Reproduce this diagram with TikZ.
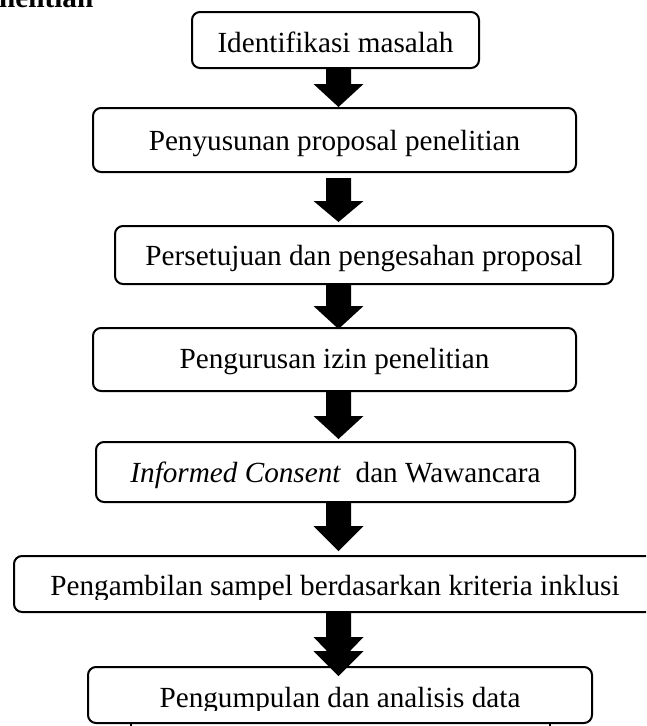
\documentclass[tikz,border=0pt]{standalone}
\usepackage{fontspec}
\setmainfont{Liberation Serif}
\usetikzlibrary{calc}
\tikzset{
  box/.style={draw, line width=2pt, rounded corners=8pt, inner sep=0pt},
  lbl/.style={anchor=base, inner sep=0pt, font=\fontsize{29.2}{35}\selectfont},
}
\newcommand{\blockarrow}[3]{%
  \fill ($(#1)+(-12.5,0)$) -- ($(#1)+(12.5,0)$) -- ($(#2)+(12.5,-#3)$)
    -- ($(#2)+(25,-#3)$) -- (#2) -- ($(#2)+(-25,-#3)$) -- ($(#2)+(-12.5,-#3)$) -- cycle;}
\begin{document}
\begin{tikzpicture}[x=1pt,y=-1pt]
\clip (0,0) rectangle (646,726);
% title (cut at top)
\node[lbl, anchor=base west, font=\fontsize{29.2}{35}\selectfont\bfseries] (ttl) at (-1,7) {nelitian};
% boxes
\node[box, minimum width=287pt, minimum height=56pt] (b1) at (335.5,40) {};
\node[box, minimum width=483pt, minimum height=64pt] (b2) at (334.5,140) {};
\node[box, minimum width=498pt, minimum height=58pt] (b3) at (364,255) {};
\node[box, minimum width=483pt, minimum height=63pt] (b4) at (334.5,359.5) {};
\node[box, minimum width=479pt, minimum height=60pt] (b5) at (335.5,472) {};
\node[box, minimum width=666pt, minimum height=56pt] (b6) at (347,584) {};
\node[box, minimum width=504pt, minimum height=56pt] (b7) at (340,695) {};
% texts
\node[lbl] (t1) at ($(b1.center)+(0,12)$) {Identifikasi masalah};
\node[lbl] (t2) at ($(b2.center)+(0,10)$) {Penyusunan proposal penelitian};
\node[lbl] (t3) at ($(b3.center)+(0,10)$) {Persetujuan dan pengesahan proposal};
\node[lbl] (t4) at ($(b4.center)+(0,8.5)$) {Pengurusan izin penelitian};
\node[lbl] (t5) at ($(b5.center)+(0,10)$) {\textit{Informed Consent}\ \ dan Wawancara};
\begin{scope}
  \clip ($(b6.south west)+(0,-14)$) rectangle (b6.north east);
  \node[lbl] (t6) at ($(b6.center)+(-12,11)$) {Pengambilan sampel berdasarkan kriteria inklusi};
\end{scope}
\begin{scope}
  \clip ($(b7.south west)+(0,-14)$) rectangle (b7.north east);
  \node[lbl] (t7) at ($(b7.center)+(0,12)$) {Pengumpulan dan analisis data};
\end{scope}
% arrow axis
\coordinate (ax) at (338.5,0);
\coordinate (s1) at (b1.south -| ax);
\coordinate (e1) at (b2.north -| ax);
\coordinate (s2) at ($(b2.south -| ax)+(0,5)$);
\coordinate (e2) at ($(b3.north -| ax)+(0,-3)$);
\coordinate (s3) at (b3.south -| ax);
\coordinate (e3) at ($(b4.north -| ax)+(0,2)$);
\coordinate (s4) at (b4.south -| ax);
\coordinate (e4) at ($(b5.north -| ax)+(0,-2)$);
\coordinate (s5) at (b5.south -| ax);
\coordinate (e5) at ($(b6.north -| ax)+(0,-4)$);
\coordinate (s6) at (b6.south -| ax);
\coordinate (e6a) at ($(b7.north -| ax)+(0,-3)$);
\coordinate (e6) at ($(b7.north -| ax)+(0,10)$);
\blockarrow{s1}{e1}{23}
\blockarrow{s2}{e2}{21}
\blockarrow{s3}{e3}{23}
\blockarrow{s4}{e4}{23}
\blockarrow{s5}{e5}{25}
\blockarrow{s6}{e6a}{26}
\fill ($(e6)+(25,-25)$) -- (e6) -- ($(e6)+(-25,-25)$) -- cycle;
% stray ticks below the last box
\coordinate (k1) at (131,0);
\coordinate (k2) at (550,0);
\draw[line width=2pt] (b7.south -| k1) -- ++(0,8);
\draw[line width=2pt] (b7.south -| k2) -- ++(0,8);
\end{tikzpicture}
\end{document}
